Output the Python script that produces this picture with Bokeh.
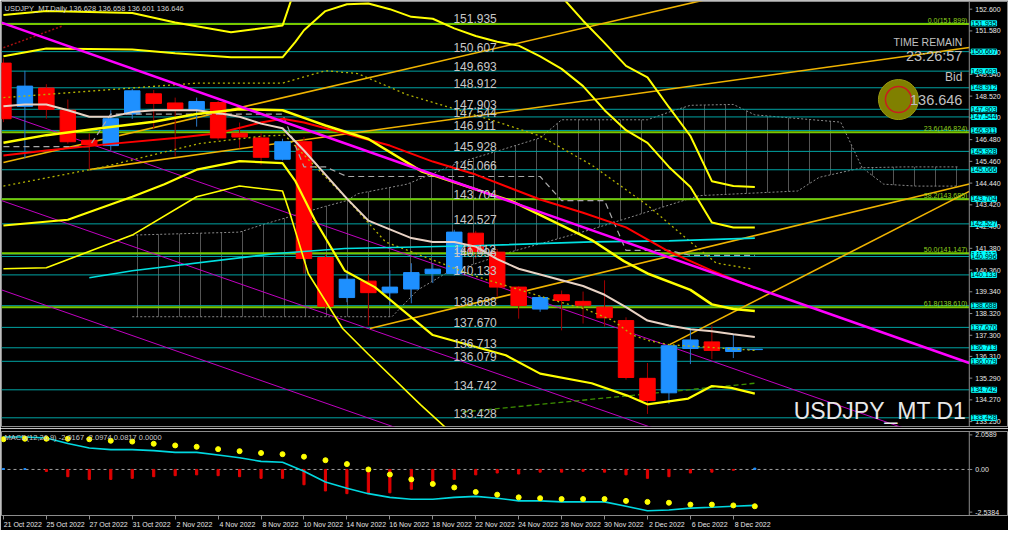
from bokeh.plotting import figure
from bokeh.layouts import column
from bokeh.models import Range1d, FixedTicker, Label, ColumnDataSource
from bokeh.core.properties import value
from bokeh.embed import file_html
from bokeh.resources import INLINE

FONT = "Liberation Sans"

# ---------------- data ----------------
bars = list(range(36))
tick_bars = [0, 2, 4, 6, 8, 10, 12, 14, 16, 18, 20, 22, 24, 26, 28, 30, 32, 34]
tick_labels = ["21 Oct 2022", "25 Oct 2022", "27 Oct 2022", "31 Oct 2022", "2 Nov 2022",
               "4 Nov 2022", "8 Nov 2022", "10 Nov 2022", "14 Nov 2022", "16 Nov 2022",
               "18 Nov 2022", "22 Nov 2022", "24 Nov 2022", "28 Nov 2022", "30 Nov 2022",
               "2 Dec 2022", "6 Dec 2022", "8 Dec 2022"]

opens = [150.07, 148.04, 148.90, 147.86, 146.45, 146.20, 147.68, 148.63, 148.20, 147.86, 148.22, 146.78,
         146.56, 145.56, 146.38, 140.95, 139.07, 139.84, 139.29, 139.47, 140.20, 140.20, 142.09, 141.20,
         139.56, 138.53, 139.20, 138.89, 138.62, 137.99, 135.28, 134.60, 136.68, 136.99, 136.54, 136.628]
highs = [150.30, 149.71, 149.08, 148.36, 146.78, 147.86, 148.85, 148.81, 148.45, 148.45, 148.30, 147.28,
         146.78, 146.52, 146.60, 141.10, 140.20, 140.15, 140.35, 140.68, 140.65, 142.25, 142.20, 141.35,
         139.60, 139.15, 139.40, 139.35, 139.88, 138.14, 136.00, 136.85, 137.62, 137.76, 137.31, 136.658]
lows = [147.30, 145.60, 147.46, 146.29, 145.07, 145.97, 147.45, 147.00, 145.68, 147.09, 146.45, 146.07,
        145.30, 145.50, 140.20, 138.50, 138.85, 137.76, 138.72, 138.80, 139.75, 140.10, 140.90, 139.10,
        138.08, 138.40, 137.53, 137.85, 137.71, 135.22, 133.61, 134.09, 135.95, 136.18, 136.23, 136.601]
closes = [147.46, 148.99, 147.90, 146.38, 146.25, 147.46, 148.77, 148.18, 147.90, 148.27, 146.56, 146.60,
          145.65, 146.38, 140.90, 138.66, 139.93, 139.30, 139.56, 140.24, 140.40, 142.14, 141.23, 139.56,
          138.70, 139.07, 138.93, 138.71, 138.12, 135.32, 134.24, 136.81, 137.08, 136.59, 136.72, 136.646]

price_ticks = [152.600, 151.580, 150.560, 149.540, 148.520, 147.500, 146.480, 145.460, 144.440, 143.420,
               142.400, 141.380, 140.360, 139.340, 138.320, 137.300, 136.310, 135.290, 134.270, 133.250]

levels = [151.935, 150.607, 149.693, 148.912, 147.903, 147.544, 146.911, 145.928, 145.066, 143.704,
          142.527, 141.112, 140.996, 140.133, 138.688, 137.670, 136.713, 136.079, 134.742, 133.428]

fib_pct = ["0.0", "23.6", "38.2", "50.0", "61.8"]
fib_vals = [151.899, 146.824, 143.685, 141.147, 138.610]

# moving averages / bands (bar index, price)
wheat_ma = [148.04, 148.13, 148.13, 147.86, 147.55, 147.55, 147.77, 147.86, 147.86, 147.86, 147.73, 147.55,
            147.23, 147.01, 145.97, 144.84, 143.71, 142.68, 142.27, 141.86, 141.68, 141.68, 141.46, 140.87,
            140.42, 140.15, 139.88, 139.61, 139.20, 138.62, 137.99, 137.76, 137.58, 137.49, 137.35, 137.22]
red_ma_x = [0, 2, 5, 8, 10, 12, 13, 14, 15, 18, 20, 22, 25, 27, 29, 31, 33, 35]
red_ma_y = [145.74, 145.97, 146.28, 146.56, 146.78, 147.28, 147.46, 147.28, 147.01, 146.20, 145.45, 144.84,
            143.67, 143.05, 142.36, 141.23, 140.33, 139.52]
up_a_x = [0, 2, 6, 8, 10.6, 13, 14, 20, 26, 27, 28, 29, 30, 31, 32, 33, 34, 35]
up_a_y = [152.33, 152.51, 152.42, 151.97, 151.52, 151.83, 154.8, 157.5, 153.19, 152.06, 151.02, 149.94,
          149.40, 148.00, 146.65, 144.53, 144.30, 144.26]
up_b_x = [0, 2, 6, 8, 10.6, 13, 13.6, 14, 15, 16, 17, 18, 19, 20, 21, 22, 23, 24, 25, 26, 27, 28, 29, 30,
          31, 32, 33, 34, 35]
up_b_y = [150.39, 150.75, 150.71, 150.53, 150.34, 150.34, 151.07, 151.61, 152.51, 152.83, 152.87, 152.60,
          152.24, 152.15, 151.70, 151.34, 151.07, 150.89, 150.39, 149.80, 148.99, 147.86, 146.92, 146.33,
          145.20, 144.26, 142.59, 142.36, 142.36]
mid_x = [0, 2, 4.5, 7, 9, 11, 13, 14, 15, 17, 19.5, 23.7, 27.4, 28.9, 30, 32, 33, 34, 35]
mid_y = [146.33, 146.69, 147.01, 147.32, 147.68, 147.91, 147.86, 147.50, 147.14, 146.51, 144.98, 143.58,
         141.77, 140.78, 140.20, 139.43, 138.75, 138.53, 138.44]
low_a_x = [0, 3, 6, 7.5, 9, 11, 13, 13.6, 14.5, 15.9, 17.3, 20, 23.4, 25, 27.4, 29.06, 30, 31.9, 33, 33.9, 35]
low_a_y = [142.45, 142.72, 143.80, 144.39, 145.07, 145.47, 145.38, 144.53, 142.72, 140.33, 139.56, 137.31,
           136.36, 135.50, 135.05, 134.47, 134.06, 134.33, 134.92, 134.83, 134.56]
low_b_x = [0, 2, 6, 9, 11, 13, 13.3, 14.2, 15.8, 17, 19.45, 21]
low_b_y = [140.42, 140.47, 142.00, 143.80, 144.30, 144.07, 143.17, 140.20, 137.62, 136.41, 134.02, 132.60]
cyan_ma_x = [4, 6, 12.7, 15.9, 21.9, 27.4, 31, 35]
cyan_ma_y = [140.00, 140.33, 141.14, 141.37, 141.50, 141.68, 141.73, 141.86]
dot_up_x = [0, 9, 13, 15, 16.5, 18.8, 22.7, 25, 27.4, 30, 32, 33.2, 34.8]
dot_up_y = [148.45, 149.13, 149.13, 149.71, 149.58, 148.59, 147.41, 146.65, 145.29, 143.40, 141.68, 140.69, 140.42]
dot_lo_x = [0, 4.5, 9.1, 12.1, 13.1, 15.9, 17.8, 21.9, 25.5, 27.1, 28.4, 29.3, 30.1, 31, 35]
dot_lo_y = [144.30, 145.16, 146.29, 146.65, 146.69, 143.80, 141.68, 140.10, 138.98, 138.53, 137.99, 137.31,
            137.04, 136.86, 136.59]
kijun = [146.15, 146.15, 146.15, 146.15, 146.15, 147.68, 147.68, 147.68, 147.68, 147.68, 147.68, 147.68,
         147.68, 147.68, 145.20, 145.20, 144.75, 144.75, 144.75, 144.75, 144.75, 144.75, 144.75, 144.75,
         144.75, 144.75, 143.62, 143.62, 143.62, 141.28, 141.28, 141.28, 141.05, 141.05, 141.05, 141.05]
span_top_x = [6, 11, 12.1, 15, 16, 16.5, 18.8, 21.3, 23.1, 25, 26, 30, 31, 32, 34, 35, 39, 40, 41, 42.5, 44.5]
span_top_y = [142.00, 142.14, 142.50, 143.35, 143.62, 143.94, 144.39, 145.43, 145.97, 146.56, 147.41, 147.41,
              147.77, 148.09, 148.13, 147.64, 147.30, 145.16, 144.39, 144.30, 144.30]
span_bot_x = [6, 18.1, 19.3, 20.6, 23.7, 27.4, 32.4, 37, 38, 40, 42, 44.5]
span_bot_y = [138.17, 138.17, 139.43, 140.20, 141.23, 142.27, 143.85, 144.07, 144.71, 145.16, 145.20, 145.20]

# trend lines (bar, price anchors)
magenta_x = [-0.09, 44.99]
magenta_y = [151.97, 136.00]
channel_x = [-0.09, 44.99]
channel_lines = [[147.73, 131.87], [143.62, 127.77], [139.43, 123.57]]
gold_lines = [([0, 35], [145.41, 153.58]),
              ([4, 44.99], [145.07, 150.80]),
              ([17.07, 44.99], [137.62, 144.40]),
              ([31.03, 44.99], [136.86, 144.05])]
green_dash_x = [21.4, 35]
green_dash_y = [133.70, 135.05]
dark_red_x = [0, 2.8]
dark_red_y = [150.79, 151.83]

# MACD panel
macd_line = [1.93, 1.93, 1.87, 1.55, 1.28, 1.18, 1.18, 1.12, 1.02, 1.02, 0.86, 0.70, 0.48, 0.43, -0.11, -0.75,
             -1.12, -1.44, -1.66, -1.77, -1.77, -1.66, -1.60, -1.71, -1.87, -1.87, -1.93, -1.93, -1.93, -2.19,
             -2.46, -2.41, -2.30, -2.25, -2.19, -2.14]
signal_dots = [1.80, 1.83, 1.83, 1.83, 1.80, 1.71, 1.66, 1.53, 1.43, 1.35, 1.21, 1.09, 0.98, 0.91, 0.76, 0.55,
               0.32, 0.00, -0.30, -0.59, -0.86, -1.07, -1.34, -1.50, -1.66, -1.71, -1.76, -1.76, -1.76, -1.87,
               -1.93, -1.98, -2.09, -2.09, -2.14, -2.19]
histogram = [0.06, 0.05, -0.12, -0.43, -0.59, -0.59, -0.53, -0.43, -0.37, -0.32, -0.37, -0.43, -0.53, -0.53,
             -0.91, -1.28, -1.44, -1.44, -1.39, -1.18, -0.96, -0.59, -0.32, -0.21, -0.27, -0.16, -0.16, -0.11,
             -0.16, -0.32, -0.53, -0.43, -0.21, -0.16, -0.05, 0.08]
macd_ticks = [2.0589, 0.0, -2.5384]
macd_tick_labels = ["2.0589", "0.00", "-2.5384"]

header_text = "USDJPY_MT,Daily  136.628 136.658 136.601 136.646"
macd_header = "MACD(12,26,9) -2.0167 -2.0974 0.0817 0.0000"

# ---------------- layout constants ----------------
XL, XR = -0.09, 46.77      # frame spans the chart and the price-scale strip
X0, X1 = -0.09, 44.99      # chart area; X1 is where the price scale sits
YB, YT = 133.02, 152.96    # main price range
MB, MT = -2.74, 2.26       # MACD range
GRAY = "#8c8c8c"
TEAL = "#00a3a3"
FIB = "#78c800"
SCALE_TXT = "#e6e6e6"


def price_scale(fig, ticks, labels, ylo, yhi):
    """Price-scale strip drawn inside the frame, on the figure's own data scale."""
    fig.segment(x0=[X1], y0=[ylo], x1=[X1], y1=[yhi], line_color=GRAY, line_width=1)
    fig.segment(x0=[X1] * len(ticks), y0=ticks, x1=[X1 + 0.14] * len(ticks), y1=ticks,
                line_color=GRAY, line_width=1)
    fig.text(x=[X1] * len(ticks), y=ticks, text=labels, x_offset=6,
             text_font=value(FONT), text_font_size="7px", text_color=SCALE_TXT,
             text_align="left", text_baseline="middle")


p = figure(width=1008, height=428, x_range=Range1d(XL, XR), y_range=Range1d(YB, YT),
           output_backend="svg", toolbar_location=None, y_axis_location=None, x_axis_location=None,
           background_fill_color="#000000", border_fill_color="#000000",
           min_border_left=1, min_border_right=1, min_border_top=1, min_border_bottom=2,
           outline_line_color=GRAY)
p.grid.visible = False

# ichimoku cloud
poly_x = span_top_x + span_bot_x[::-1]
poly_y = span_top_y + span_bot_y[::-1]
p.patch(poly_x, poly_y, fill_alpha=0, line_alpha=0, hatch_pattern="vertical_line",
        hatch_color="#545454", hatch_scale=21, hatch_weight=1)
p.line(span_top_x, span_top_y, line_color="#8a8a8a", line_dash="2 2", line_width=1)
p.line(span_bot_x, span_bot_y, line_color="#8a8a8a", line_dash="2 2", line_width=1)

# horizontal levels
p.segment(x0=[X0] * len(levels), y0=levels, x1=[X1] * len(levels), y1=levels, line_color=TEAL, line_width=1)
p.segment(x0=[X0] * len(fib_vals), y0=fib_vals, x1=[X1] * len(fib_vals), y1=fib_vals, line_color=FIB, line_width=2)

# trend lines
for ys in channel_lines:
    p.line(channel_x, ys, line_color="#c000c0", line_width=1)
for gx, gy in gold_lines:
    p.line(gx, gy, line_color="#f0b400", line_width=1.6)
p.line(dark_red_x, dark_red_y, line_color="#a01010", line_dash="2 2", line_width=1.5)
p.line(green_dash_x, green_dash_y, line_color="#3d8f00", line_dash="5 3", line_width=1.3)

# candles
bull = [c >= o for o, c in zip(opens, closes)]
src = ColumnDataSource(dict(
    x=bars, o=opens, h=highs, l=lows, c=closes,
    top=[max(o, c) for o, c in zip(opens, closes)],
    bot=[min(o, c) for o, c in zip(opens, closes)],
    body=["#1e90ff" if b else "#ff0000" for b in bull],
    wick=["#2a78c8" if b else "#a00000" for b in bull],
))
p.segment(x0="x", y0="l", x1="x", y1="h", line_color="wick", line_width=1, source=src)
p.vbar(x="x", width=0.72, top="top", bottom="bot", fill_color="body", line_color="body", source=src)

# indicators over candles
p.line(bars, kijun, line_color="#a8a8a8", line_dash="6 4", line_width=1.2)
p.line(dot_up_x, dot_up_y, line_color="#b4b400", line_dash="2 3", line_width=1.3)
p.line(dot_lo_x, dot_lo_y, line_color="#b4b400", line_dash="2 3", line_width=1.3)
p.line(cyan_ma_x, cyan_ma_y, line_color="#00e0e0", line_width=1.6)
p.line(red_ma_x, red_ma_y, line_color="#ff0000", line_width=2)
p.line(bars, wheat_ma, line_color="#e8d2c4", line_width=2)
p.line(up_a_x, up_a_y, line_color="#ffff00", line_width=2)
p.line(up_b_x, up_b_y, line_color="#ffff00", line_width=2)
p.line(mid_x, mid_y, line_color="#ffff00", line_width=2.5)
p.line(low_a_x, low_a_y, line_color="#ffff00", line_width=2.2)
p.line(low_b_x, low_b_y, line_color="#ffff00", line_width=1.6)
p.line(magenta_x, magenta_y, line_color="#ff00ff", line_width=2.5)

# level texts in the chart
level_label_x = 20.96
p.text(x=[level_label_x] * len(levels), y=levels, text=[f"{v:.3f}" for v in levels],
       text_font=value(FONT), text_font_size="12px", text_color="#c8c8c8",
       text_align="left", text_baseline="bottom")
fib_label_x = 44.9
p.text(x=[fib_label_x] * len(fib_vals), y=fib_vals,
       text=[f"{a}({v:.3f})" for a, v in zip(fib_pct, fib_vals)],
       text_font=value(FONT), text_font_size="7px", text_color="#8fd21e",
       text_align="right", text_baseline="bottom")

# price scale + level boxes on it
price_scale(p, price_ticks, [f"{t:.3f}" for t in price_ticks], YB, YT)
for v in levels:
    p.add_layout(Label(x=X1, x_offset=2, y=v, text=f"{v:.3f}", text_font=FONT, text_font_size="7px",
                       text_color="#000000", text_align="left", text_baseline="middle",
                       background_fill_color="#00ffff", border_line_color="#00ffff"))

# header
p.add_layout(Label(x=X0, y=YT, x_offset=3, y_offset=-2, text=header_text, text_font=FONT,
                   text_font_size="7.5px", text_color="#d0d0d0", text_baseline="top"))

# time remain / bid block
info_x = 44.67
p.add_layout(Label(x=info_x, y=151.07, text="TIME REMAIN", text_font=FONT, text_font_size="10.5px",
                   text_color="#c0c0c0", text_align="right", text_baseline="middle"))
p.add_layout(Label(x=info_x, y=150.39, text="23:26:57", text_font=FONT, text_font_size="14.5px",
                   text_color="#c0c0c0", text_align="right", text_baseline="middle"))
p.add_layout(Label(x=info_x, y=149.44, text="Bid", text_font=FONT, text_font_size="12px",
                   text_color="#c0c0c0", text_align="right", text_baseline="middle"))
p.add_layout(Label(x=info_x, y=148.36, text="136.646", text_font=FONT, text_font_size="14.5px",
                   text_color="#c0c0c0", text_align="right", text_baseline="middle"))
sig_x = [41.69]
sig_y = [148.36]
p.scatter(sig_x, sig_y, marker="circle", size=40, fill_color="#808000", line_color="#9a9a10", line_width=1)
p.scatter(sig_x, sig_y, marker="circle", size=26, fill_color=None, line_color="#c81e1e", line_width=1.5)

p.add_layout(Label(x=44.85, y=YB, y_offset=3, text="USDJPY_MT D1", text_font=FONT,
                   text_font_size="23px", text_color="#e8e8e8", text_align="right", text_baseline="bottom"))

# ---------------- MACD panel ----------------
q = figure(width=1008, height=102, x_range=p.x_range, y_range=Range1d(MB, MT),
           output_backend="svg", toolbar_location=None, y_axis_location=None,
           background_fill_color="#000000", border_fill_color="#000000",
           min_border_left=1, min_border_right=1, min_border_top=3, min_border_bottom=0,
           outline_line_color=GRAY)
q.grid.visible = False

qx = q.xaxis[0]
label_pos = [round(b + 0.9, 2) for b in tick_bars]
qx.ticker = FixedTicker(ticks=label_pos, minor_ticks=tick_bars)
qx.major_label_overrides = {lp: s for lp, s in zip(label_pos, tick_labels)}
qx.major_label_text_font_size = "7px"
qx.major_label_text_font = FONT
qx.major_label_text_color = SCALE_TXT
qx.major_label_standoff = 1
qx.axis_line_color = None
qx.major_tick_line_color = None
qx.major_tick_in = 0
qx.major_tick_out = 4
qx.minor_tick_line_color = GRAY
qx.minor_tick_in = 0
qx.minor_tick_out = 4

q.segment(x0=[X0], y0=[0], x1=[X1], y1=[0], line_color="#a0a0a0", line_dash="3 3", line_width=1)
hist_col = ["#1e90ff" if v > 0 else "#e00000" for v in histogram]
q.vbar(x=bars, width=0.1, top=histogram, bottom=0, fill_color=hist_col, line_color=hist_col)
q.line(bars, macd_line, line_color="#00d8e0", line_width=1.6)
q.scatter(bars, signal_dots, marker="circle", size=5, fill_color="#ffff00", line_color="#ffff00")
price_scale(q, macd_ticks, macd_tick_labels, MB, MT)

q.add_layout(Label(x=X0, y=MT, x_offset=3, y_offset=-1, text=macd_header, text_font=FONT,
                   text_font_size="7.5px", text_color="#c8c8c8", text_baseline="top"))

layout = column(p, q, spacing=0)
open("out.html", "w").write(file_html(layout, INLINE))
